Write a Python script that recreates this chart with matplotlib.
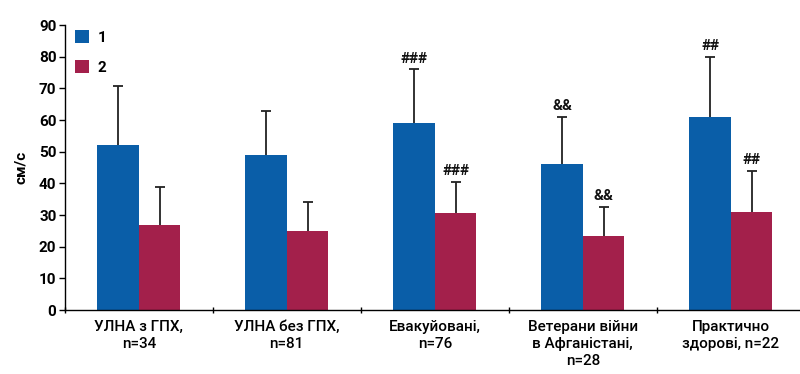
import matplotlib
matplotlib.use("Agg")
import matplotlib.pyplot as plt
import numpy as np

plt.rcParams['font.family'] = ['Roboto', 'DejaVu Sans']

categories = ["УЛНА з ГПХ,\nn=34", "УЛНА без ГПХ,\nn=81", "Евакуйовані,\nn=76",
              "Ветерани війни\nв Афганістані,\nn=28", "Практично\nздорові, n=22"]
series_names = ["1", "2"]
values_1 = [52, 49, 59, 46, 61]
errors_1 = [18.7, 14, 17, 15, 19]
values_2 = [27, 25, 30.5, 23.5, 31]
errors_2 = [12, 9, 10, 9, 13]
marks_1 = ["", "", "###", "&&", "##"]
marks_2 = ["", "", "###", "&&", "##"]
yticks = list(range(0, 100, 10))

blue = "#0a5ea8"
red = "#a3204b"

fig = plt.figure(figsize=(8.0, 3.74), dpi=100)
ax = fig.add_axes([0.081, 0.171, 0.925, 0.762])

x = np.arange(len(categories))
w = 0.28
ax.bar(x - w / 2, values_1, w, color=blue, label=series_names[0], zorder=2)
ax.bar(x + w / 2, values_2, w, color=red, label=series_names[1], zorder=2)

# upper whiskers only, with a cap at the top end
for xs, vals, errs in ((x - w / 2, values_1, errors_1), (x + w / 2, values_2, errors_2)):
    tops = np.array(vals) + np.array(errs)
    ax.vlines(xs, vals, tops, colors='#222222', linewidth=1.3, zorder=3)
    ax.plot(xs, tops, linestyle='none', marker='_', markersize=7,
            markeredgewidth=1.3, color='#222222', zorder=3)

for xi, v, e, m in zip(x - w / 2, values_1, errors_1, marks_1):
    if m:
        ax.text(xi, v + e + 1.2, m, ha='center', va='bottom', fontsize=11,
                fontweight='bold', color='#111111')
for xi, v, e, m in zip(x + w / 2, values_2, errors_2, marks_2):
    if m:
        ax.text(xi, v + e + 1.2, m, ha='center', va='bottom', fontsize=11,
                fontweight='bold', color='#111111')

ax.set_xlim(-0.5, len(categories) - 0.5)
ax.set_ylim(0, 90)
ax.set_yticks(yticks)
ax.set_yticklabels([str(t) for t in yticks], fontsize=11, fontweight='bold')
ax.set_xticks(x)
ax.set_xticklabels(categories, fontsize=11, fontweight='medium', linespacing=1.3)
ax.tick_params(axis='x', length=0, pad=7)
ax.set_xticks(np.arange(-0.5, len(categories), 1), minor=True)
ax.tick_params(axis='x', which='minor', length=4, direction='inout', width=1)
ax.tick_params(axis='y', length=4, width=1, direction='out', pad=2)

ax.spines['top'].set_visible(False)
ax.spines['right'].set_visible(False)
ax.spines['left'].set_linewidth(1)
ax.spines['bottom'].set_linewidth(1)

ax.set_ylabel("см/с", fontsize=11, fontweight='bold', labelpad=8)

ax.legend(loc='upper left', bbox_to_anchor=(-0.005, 1.03), frameon=False,
          handlelength=0.9, handleheight=0.9, handletextpad=0.6,
          labelspacing=1.0, prop={'weight': 'bold', 'size': 11})

fig.savefig("out.png", dpi=100)
